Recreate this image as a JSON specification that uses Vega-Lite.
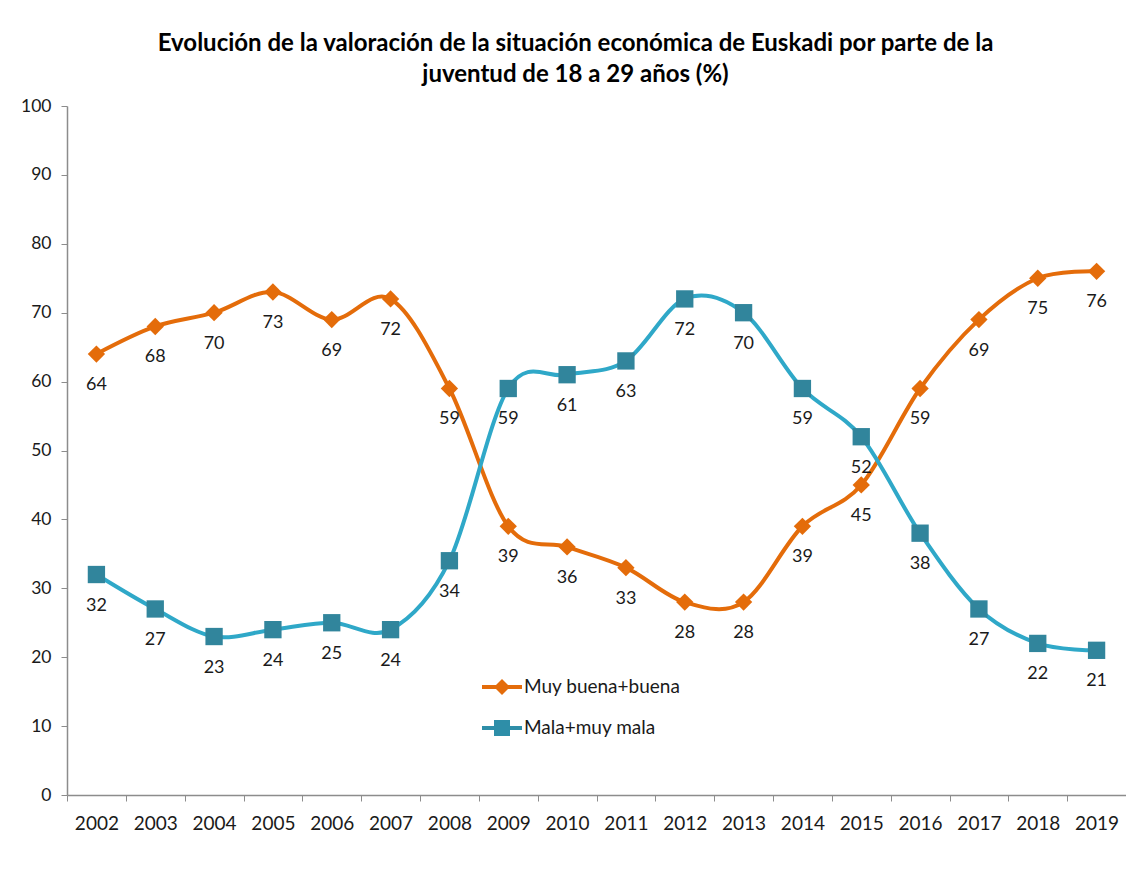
{
  "$schema": "https://vega.github.io/schema/vega-lite/v6.json",
  "autosize": "none",
  "width": 1059,
  "height": 689,
  "padding": {"left": 67, "top": 106, "right": 0, "bottom": 82},
  "background": "white",
  "title": {
    "text": ["Evolución de la valoración de la situación económica de Euskadi por parte de la", "juventud de 18 a 29 años (%)"],
    "fontSize": 24,
    "fontWeight": "bold",
    "font": "Lato",
    "color": "#000000",
    "anchor": "middle",
    "dx": -21,
    "offset": 10,
    "lineHeight": 31
  },
  "config": {
    "view": {"stroke": null},
    "font": "Lato",
    "axis": {"labelFont": "Lato", "labelColor": "#1a1a1a", "domainColor": "#8c8c8c", "tickColor": "#8c8c8c", "grid": false, "title": null}
  },
  "data": {
    "values": [
      {"year": "2002", "serie": "Muy buena+buena", "value": 64},
      {"year": "2003", "serie": "Muy buena+buena", "value": 68},
      {"year": "2004", "serie": "Muy buena+buena", "value": 70},
      {"year": "2005", "serie": "Muy buena+buena", "value": 73},
      {"year": "2006", "serie": "Muy buena+buena", "value": 69},
      {"year": "2007", "serie": "Muy buena+buena", "value": 72},
      {"year": "2008", "serie": "Muy buena+buena", "value": 59},
      {"year": "2009", "serie": "Muy buena+buena", "value": 39},
      {"year": "2010", "serie": "Muy buena+buena", "value": 36},
      {"year": "2011", "serie": "Muy buena+buena", "value": 33},
      {"year": "2012", "serie": "Muy buena+buena", "value": 28},
      {"year": "2013", "serie": "Muy buena+buena", "value": 28},
      {"year": "2014", "serie": "Muy buena+buena", "value": 39},
      {"year": "2015", "serie": "Muy buena+buena", "value": 45},
      {"year": "2016", "serie": "Muy buena+buena", "value": 59},
      {"year": "2017", "serie": "Muy buena+buena", "value": 69},
      {"year": "2018", "serie": "Muy buena+buena", "value": 75},
      {"year": "2019", "serie": "Muy buena+buena", "value": 76},
      {"year": "2002", "serie": "Mala+muy mala", "value": 32},
      {"year": "2003", "serie": "Mala+muy mala", "value": 27},
      {"year": "2004", "serie": "Mala+muy mala", "value": 23},
      {"year": "2005", "serie": "Mala+muy mala", "value": 24},
      {"year": "2006", "serie": "Mala+muy mala", "value": 25},
      {"year": "2007", "serie": "Mala+muy mala", "value": 24},
      {"year": "2008", "serie": "Mala+muy mala", "value": 34},
      {"year": "2009", "serie": "Mala+muy mala", "value": 59},
      {"year": "2010", "serie": "Mala+muy mala", "value": 61},
      {"year": "2011", "serie": "Mala+muy mala", "value": 63},
      {"year": "2012", "serie": "Mala+muy mala", "value": 72},
      {"year": "2013", "serie": "Mala+muy mala", "value": 70},
      {"year": "2014", "serie": "Mala+muy mala", "value": 59},
      {"year": "2015", "serie": "Mala+muy mala", "value": 52},
      {"year": "2016", "serie": "Mala+muy mala", "value": 38},
      {"year": "2017", "serie": "Mala+muy mala", "value": 27},
      {"year": "2018", "serie": "Mala+muy mala", "value": 22},
      {"year": "2019", "serie": "Mala+muy mala", "value": 21}
    ]
  },
  "encoding": {
    "x": {
      "field": "year",
      "type": "ordinal",
      "bandPosition": 0.5,
      "scale": {"type": "band", "paddingInner": 0, "paddingOuter": 0},
      "axis": {"labelAngle": 0, "labelFontSize": 19, "tickBand": "extent", "tickSize": 6, "labelPadding": 13, "domainWidth": 1.5}
    },
    "y": {
      "field": "value",
      "type": "quantitative",
      "scale": {"domain": [0, 100], "nice": false},
      "axis": {"values": [0, 10, 20, 30, 40, 50, 60, 70, 80, 90, 100], "labelFontSize": 17.5, "tickSize": 6, "labelPadding": 10, "domainWidth": 1.5}
    }
  },
  "layer": [
    {
      "mark": {"type": "line", "interpolate": "cardinal", "strokeWidth": 4},
      "encoding": {
        "color": {
          "field": "serie",
          "type": "nominal",
          "sort": ["Muy buena+buena", "Mala+muy mala"],
          "scale": {"domain": ["Muy buena+buena", "Mala+muy mala"], "range": ["#E46C0A", "#2FA8C8"]},
          "legend": {
            "title": null,
            "orient": "none",
            "legendX": 415,
            "legendY": 561,
            "labelFontSize": 19,
            "labelColor": "#1a1a1a",
            "labelFont": "Lato",
            "labelOffset": 2,
            "rowPadding": 11,
            "symbolSize": 1600,
            "encode": {
              "symbols": {
                "update": {
                  "shape": {"signal": "datum.value === 'Muy buena+buena' ? 'M-1,-0.1H1V0.1H-1Z M0,-0.4L0.4,0L0,0.4L-0.4,0Z' : 'M-1,-0.1H1V0.1H-1Z M-0.4,-0.4H0.4V0.4H-0.4Z'"},
                  "fill": {"signal": "datum.value === 'Muy buena+buena' ? '#E46C0A' : '#2E8EA8'"},
                  "fillOpacity": {"value": 1},
                  "strokeWidth": {"value": 0},
                  "size": {"value": 1600}
                }
              }
            }
          }
        }
      }
    },
    {
      "mark": {"type": "point", "filled": true, "opacity": 1},
      "encoding": {
        "shape": {"condition": {"test": "datum.serie === 'Mala+muy mala'", "value": "square"}, "value": "diamond"},
        "size": {"condition": {"test": "datum.serie === 'Mala+muy mala'", "value": 300}, "value": 300},
        "color": {"condition": {"test": "datum.serie === 'Mala+muy mala'", "value": "#31859C"}, "value": "#E46C0A"}
      }
    },
    {
      "mark": {"type": "text", "dy": 31, "fontSize": 18, "color": "#1a1a1a", "font": "Lato"},
      "encoding": {
        "text": {"field": "value", "type": "quantitative"}
      }
    }
  ]
}
